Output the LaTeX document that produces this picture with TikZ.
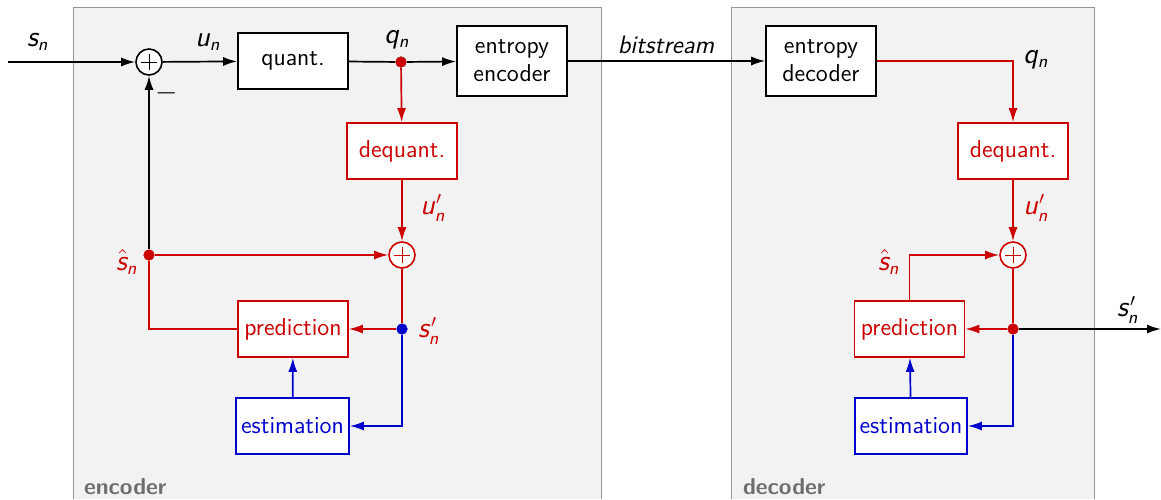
\documentclass[tikz,border=0pt]{standalone}
\usetikzlibrary{arrows.meta,calc}
\renewcommand\familydefault{\sfdefault}
\DeclareMathAlphabet{\mathsi}{OT1}{cmss}{m}{sl}
\newcommand\vs{\mathsi{s}}
\newcommand\vn{\mathsi{n}}
\definecolor{cred}{RGB}{204,0,0}
\definecolor{cblue}{RGB}{0,0,204}
\definecolor{panel}{RGB}{242,242,242}
\definecolor{panelline}{RGB}{150,150,150}
\definecolor{panellabel}{RGB}{110,110,110}
\tikzset{
  every node/.style={font=\fontsize{12.2}{14}\selectfont},
  box/.style={draw, fill=white, line width=0.8pt, minimum width=55pt, minimum height=28pt, inner sep=0pt},
  ebox/.style={box, minimum height=35pt, align=center},
  sumc/.style={circle, draw, fill=white, line width=0.8pt, minimum size=13pt, inner sep=0pt},
  dot/.style={circle, fill, minimum size=5.5pt, inner sep=0pt},
  wire/.style={line width=0.85pt},
  arr/.style={wire, -{Latex[length=7pt,width=4.5pt]}},
  lbl/.style={inner sep=1pt, font=\fontsize{13.5}{15}\selectfont},
  paneltitle/.style={anchor=west, text=panellabel, font=\fontsize{11.5}{13}\selectfont\bfseries}
}
\newcommand\plusin[1]{\draw[line width=0.5pt] ($(#1.center)+(-4.2pt,0)$) -- ($(#1.center)+(4.2pt,0)$) ($(#1.center)+(0,-4.2pt)$) -- ($(#1.center)+(0,4.2pt)$);}
\begin{document}
\begin{tikzpicture}[x=0.5pt, y=-0.5pt]
\useasboundingbox (0,0) rectangle (1161,499);
% panels
\fill[panel] (73,7) rectangle (601,499);
\draw[panelline, line width=0.5pt] (73,499) -- (73,7) -- (601,7) -- (601,499);
\fill[panel] (731,7) rectangle (1094,499);
\draw[panelline, line width=0.5pt] (731,499) -- (731,7) -- (1094,7) -- (1094,499);
\node[paneltitle] (enclbl) at (77,487) {encoder};
\node[paneltitle] (declbl) at (736,487) {decoder};

% ---------------- encoder ----------------
\coordinate (in) at (8,62);
\node[sumc] (sum1) at (149,62) {};
\plusin{sum1}
\node[box] (quant) at (293,61) {quant.};
\node[dot] (qdot) at (401,62) {};
\node[ebox] (entenc) at (512,61) {entropy\\encoder};
\node[box, draw=cred, text=cred] (deq1) at (402,151) {dequant.};
\node[sumc, draw=cred] (sum2) at (402,255) {};
\begin{scope}[cred]\plusin{sum2}\end{scope}
\node[dot, cred] (shat1) at (149,255) {};
\node[box, draw=cred, text=cred] (pred1) at (293,329) {prediction};
\node[dot, cblue] (sp1) at (402,329) {};
\node[box, draw=cblue, text=cblue, minimum width=56.5pt] (est1) at (292.5,426) {estimation};

\draw[arr] (in) -- (sum1);
\node[lbl] (lsn) at (38,42) {$\vs_\vn$};
\draw[arr] (sum1) -- (quant);
\node[lbl] (lun) at (208,42) {$\mathsi{u}_\vn$};
\draw[wire] (quant) -- (qdot);
\draw[arr] (qdot) -- (entenc);
\node[lbl] (lqn) at (397,40) {$\mathsi{q}_\vn$};
\draw[arr, cred] (qdot) -- (deq1);
\draw[arr, cred] (deq1) -- (sum2);
\node[lbl, text=cred] (lup1) at (433,208) {$\mathsi{u}'_\vn$};
\draw[arr, cred] (shat1) -- (sum2);
\draw[arr] (shat1) -- (sum1);
\node[lbl] (lminus) at (167,93) {$-$};
\node[lbl, text=cred] (lsh1) at (127,262) {$\hat{\vs}_\vn$};
\draw[wire, cred] (shat1) |- (pred1);
\draw[wire, cred] (sum2) -- (sp1);
\draw[arr, cred] (sp1) -- (pred1);
\node[lbl, text=cred] (lsp1) at (429,331) {$\vs'_\vn$};
\draw[arr, cblue] (sp1) |- (est1);
\draw[arr, cblue] (est1) -- (pred1);

% ---------------- channel ----------------
\node[ebox] (entdec) at (821,61) {entropy\\decoder};
\draw[arr] (entenc) -- (entdec);
\node[lbl, font=\fontsize{12.6}{14}\selectfont\itshape] (lbits) at (666,45) {bitstream};

% ---------------- decoder ----------------
\node[box, draw=cred, text=cred] (deq2) at (1013,151) {dequant.};
\node[sumc, draw=cred] (sum3) at (1013,255) {};
\begin{scope}[cred]\plusin{sum3}\end{scope}
\node[box, draw=cred, text=cred] (pred2) at (909.5,329) {prediction};
\node[dot, cred] (sp2) at (1013,329) {};
\node[box, draw=cblue, text=cblue, minimum width=56pt] (est2) at (911,426) {estimation};
\coordinate (out) at (1161,329);

\draw[arr, cred] (entdec) -| (deq2);
\node[lbl] (lqn2) at (1036,60) {$\mathsi{q}_\vn$};
\draw[arr, cred] (deq2) -- (sum3);
\node[lbl, text=cred] (lup2) at (1036,208) {$\mathsi{u}'_\vn$};
\draw[arr, cred] (pred2.north) |- (sum3);
\node[lbl, text=cred] (lsh2) at (889,262) {$\hat{\vs}_\vn$};
\draw[wire, cred] (sum3) -- (sp2);
\draw[arr, cred] (sp2) -- (pred2);
\draw[arr] (sp2) -- (out);
\node[lbl] (lsp2) at (1128,310) {$\vs'_\vn$};
\draw[arr, cblue] (sp2) |- (est2);
\draw[arr, cblue] (est2) -- (pred2);
\node[dot, cred] at (sp2) {};
\node[dot, cred] at (qdot) {};
\node[dot, cred] at (shat1) {};
\node[dot, cblue] at (sp1) {};
\end{tikzpicture}
\end{document}
